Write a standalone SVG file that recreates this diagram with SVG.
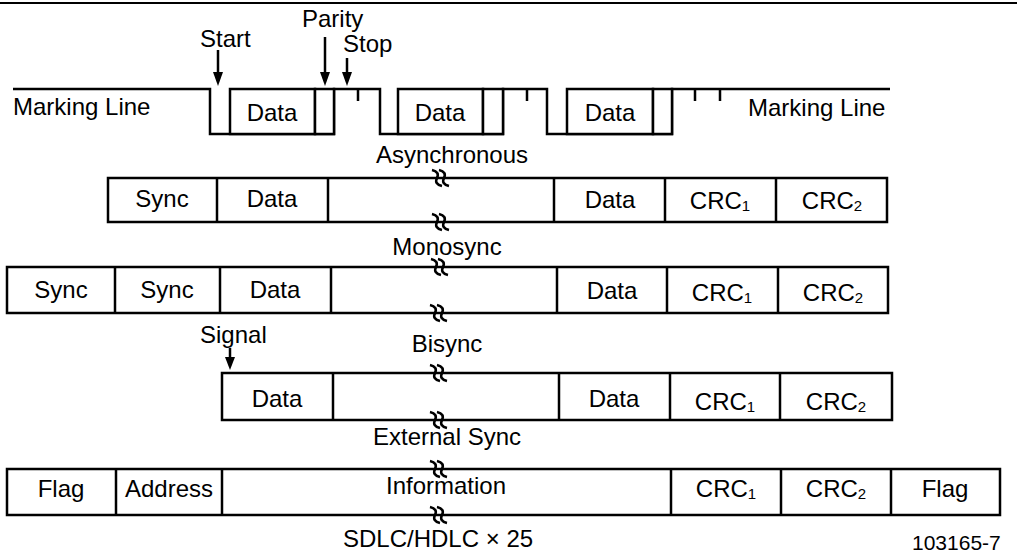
<svg xmlns="http://www.w3.org/2000/svg" width="1017" height="554" viewBox="0 0 1017 554">
<style>
text{font-family:"Liberation Sans",Arial,Helvetica,sans-serif;font-size:24px;fill:#000}
.c{text-anchor:middle}
.box{fill:#fff;stroke:#000;stroke-width:2.5}
.ln{fill:none;stroke:#000;stroke-width:2.5}
.brk{fill:none;stroke:#000;stroke-width:2.6}
.sub{font-size:15px}
.ah{fill:#000}
</style>
<defs>
<g id="zz"><path class="brk" d="M-8 -8 Q0 -6 -3 0 Q-6 6 2 8 M-1 -8 Q7 -6 4 0 Q1 6 9 8"/></g>
</defs>
<rect width="1017" height="554" fill="#fff"/>
<line x1="0" y1="3" x2="1017" y2="3" stroke="#000" stroke-width="2"/>

<g id="async">
<path class="ln" d="M13 89 H210 V134 H334 V89 H380 V134 H503 V89 H547 V134 H672 V89 H890"/>
<path class="ln" d="M358 89 V101 M527 89 V101 M695 89 V101 M720 89 V101"/>
<g id="a-data1"><rect class="box" x="230" y="89" width="85" height="45"/><text class="c" x="272" y="121">Data</text></g>
<g id="a-par1"><rect class="box" x="315" y="89" width="19" height="45"/></g>
<g id="a-data2"><rect class="box" x="398" y="89" width="85" height="45"/><text class="c" x="440" y="121">Data</text></g>
<g id="a-par2"><rect class="box" x="483" y="89" width="20" height="45"/></g>
<g id="a-data3"><rect class="box" x="567" y="89" width="86" height="45"/><text class="c" x="610" y="121">Data</text></g>
<g id="a-par3"><rect class="box" x="653" y="89" width="19" height="45"/></g>
<text x="13" y="115">Marking Line</text>
<text x="748" y="116">Marking Line</text>
<text x="200" y="47">Start</text>
<text x="302" y="27">Parity</text>
<text x="343" y="52">Stop</text>
<text class="c" x="452" y="163">Asynchronous</text>
</g>

<g id="monosync">
<path class="ln" d="M108 178 H887 V222 H108 Z"/>
<g id="m-sync"><path class="ln" d="M217 178 V222"/><text class="c" x="162" y="207">Sync</text></g>
<g id="m-data1"><path class="ln" d="M328 178 V222"/><text class="c" x="272" y="207">Data</text></g>
<g id="m-data2"><path class="ln" d="M554 178 V222"/><text class="c" x="610" y="208">Data</text></g>
<g id="m-crc1"><path class="ln" d="M665 178 V222"/><text class="c" x="720" y="209">CRC<tspan class="sub" dy="2">1</tspan></text></g>
<g id="m-crc2"><path class="ln" d="M776 178 V222"/><text class="c" x="832" y="209">CRC<tspan class="sub" dy="2">2</tspan></text></g>
<use href="#zz" x="440" y="178"/><use href="#zz" x="440" y="222"/>
<text class="c" x="447" y="255">Monosync</text>
</g>

<g id="bisync">
<path class="ln" d="M7 267 H888 V313 H7 Z"/>
<g id="b-sync1"><path class="ln" d="M115 267 V313"/><text class="c" x="61" y="298">Sync</text></g>
<g id="b-sync2"><path class="ln" d="M220 267 V313"/><text class="c" x="167" y="298">Sync</text></g>
<g id="b-data1"><path class="ln" d="M331 267 V313"/><text class="c" x="275" y="298">Data</text></g>
<g id="b-data2"><path class="ln" d="M557 267 V313"/><text class="c" x="612" y="299">Data</text></g>
<g id="b-crc1"><path class="ln" d="M667 267 V313"/><text class="c" x="722" y="301">CRC<tspan class="sub" dy="2">1</tspan></text></g>
<g id="b-crc2"><path class="ln" d="M778 267 V313"/><text class="c" x="833" y="301">CRC<tspan class="sub" dy="2">2</tspan></text></g>
<use href="#zz" x="439" y="267"/><use href="#zz" x="438" y="313"/>
<text x="200" y="343">Signal</text>
<text class="c" x="447" y="352">Bisync</text>
</g>

<g id="extsync">
<path class="ln" d="M222 373 H892 V420 H222 Z"/>
<g id="e-data1"><path class="ln" d="M333 373 V420"/><text class="c" x="277" y="407">Data</text></g>
<g id="e-data2"><path class="ln" d="M559 373 V420"/><text class="c" x="614" y="407">Data</text></g>
<g id="e-crc1"><path class="ln" d="M670 373 V420"/><text class="c" x="725" y="410">CRC<tspan class="sub" dy="2">1</tspan></text></g>
<g id="e-crc2"><path class="ln" d="M780 373 V420"/><text class="c" x="836" y="410">CRC<tspan class="sub" dy="2">2</tspan></text></g>
<use href="#zz" x="438" y="373"/><use href="#zz" x="438" y="420"/>
<text class="c" x="447" y="445">External Sync</text>
</g>

<g id="sdlc">
<path class="ln" d="M7 469 H1000 V515 H7 Z"/>
<g id="s-flag1"><path class="ln" d="M116 469 V515"/><text class="c" x="61" y="497">Flag</text></g>
<g id="s-addr"><path class="ln" d="M222 469 V515"/><text class="c" x="169" y="497">Address</text></g>
<g id="s-info"><path class="ln" d="M671 469 V515"/><text class="c" x="446" y="494">Information</text></g>
<g id="s-crc1"><path class="ln" d="M781 469 V515"/><text class="c" x="726" y="497">CRC<tspan class="sub" dy="2">1</tspan></text></g>
<g id="s-crc2"><path class="ln" d="M891 469 V515"/><text class="c" x="836" y="497">CRC<tspan class="sub" dy="2">2</tspan></text></g>
<g id="s-flag2"><text class="c" x="945" y="497">Flag</text></g>
<use href="#zz" x="438" y="469"/><use href="#zz" x="438" y="515"/>
<text x="343" y="547">SDLC/HDLC × 25</text>
</g>

<g id="connectors">
<line class="ln" x1="218" y1="50" x2="218" y2="74"/><path class="ah" d="M213 72 H223 L218 86 Z"/>
<line class="ln" x1="325" y1="37" x2="325" y2="74"/><path class="ah" d="M320 72 H330 L325 86 Z"/>
<line class="ln" x1="347" y1="58" x2="347" y2="74"/><path class="ah" d="M342 72 H352 L347 86 Z"/>
<line class="ln" x1="230" y1="348" x2="230" y2="360"/><path class="ah" d="M225 357 H235 L230 370 Z"/>
</g>
<text x="912" y="550" style="font-size:21px">103165-7</text>
</svg>
